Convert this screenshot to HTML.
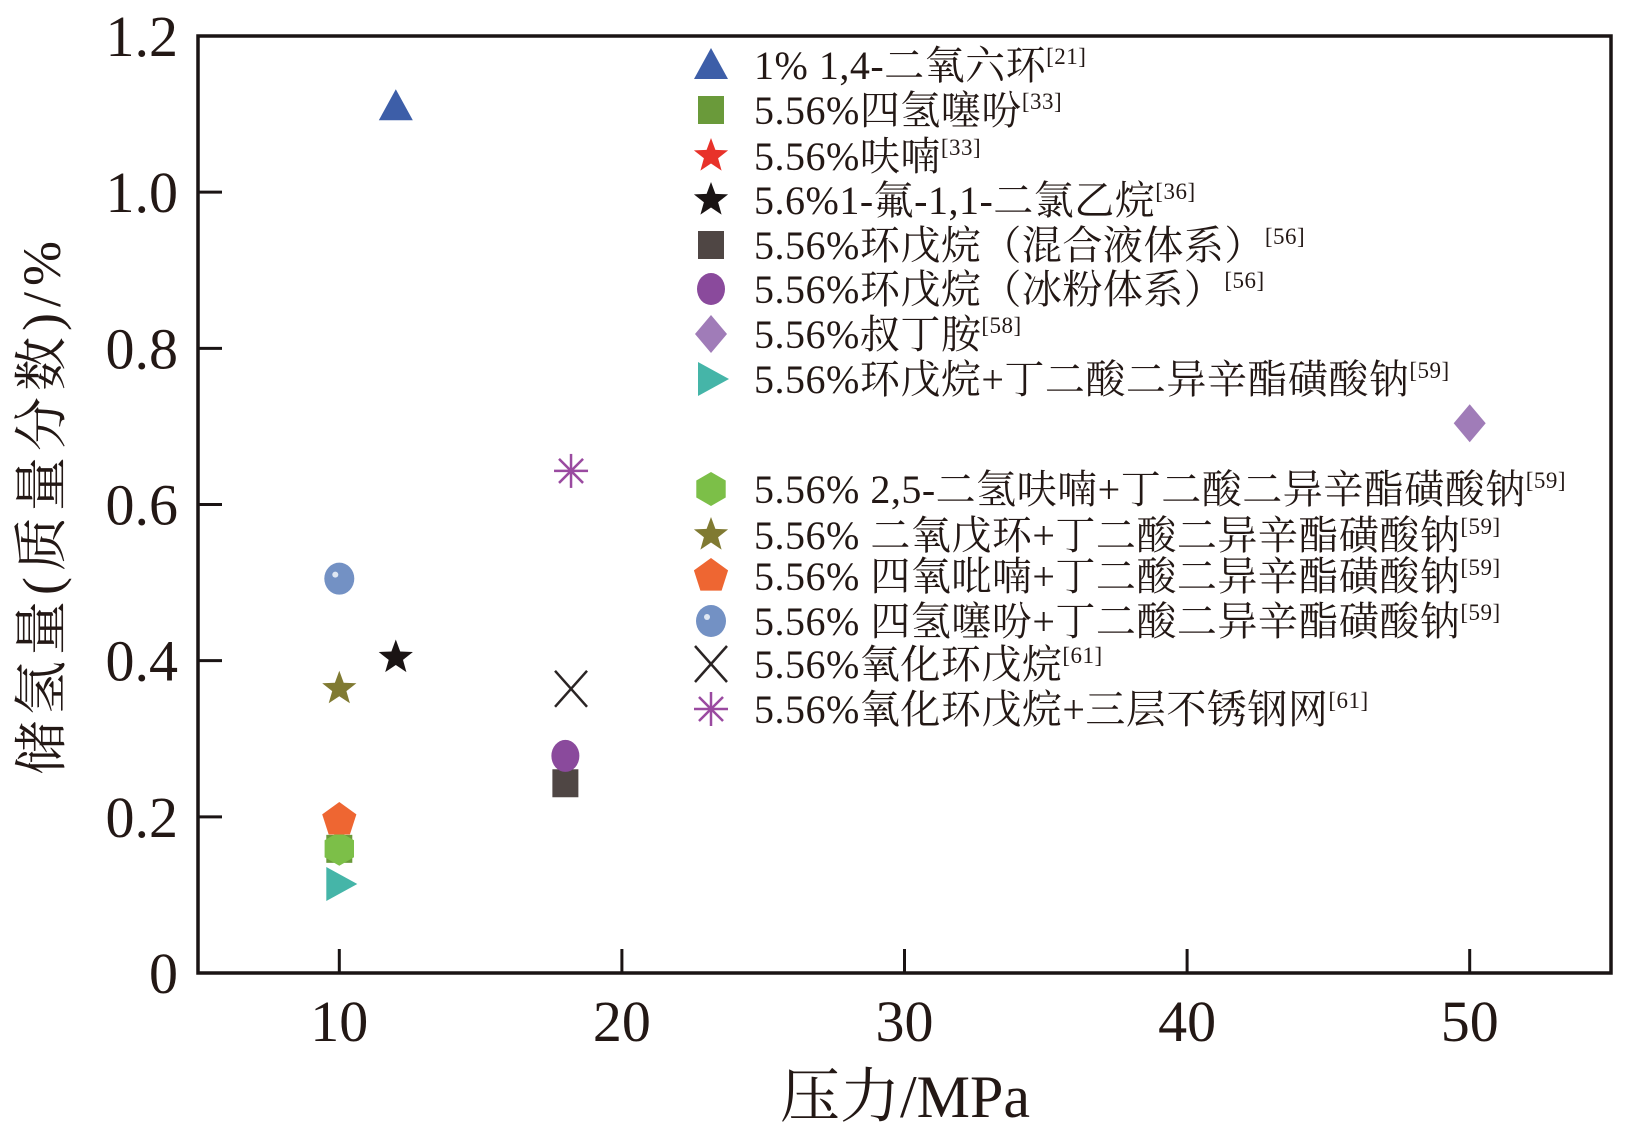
<!DOCTYPE html>
<html><head><meta charset="utf-8"><style>
html,body{margin:0;padding:0;background:#fff;width:1626px;height:1137px;overflow:hidden}
svg{display:block}
text{font-family:"Liberation Serif","Noto Serif CJK SC",serif;fill:#231815}
</style></head><body>
<svg id="chart" width="1626" height="1137" viewBox="0 0 1626 1137" xmlns="http://www.w3.org/2000/svg"></svg>
<script>
const xTicks = [10, 20, 30, 40, 50];
const yTicks = [0, 0.2, 0.4, 0.6, 0.8, 1.0, 1.2];
const yTickLabels = ["0", "0.2", "0.4", "0.6", "0.8", "1.0", "1.2"];
const seriesNames = ["1% 1,4-二氧六环", "5.56%四氢噻吩", "5.56%呋喃", "5.6%1-氟-1,1-二氯乙烷", "5.56%环戊烷（混合液体系）", "5.56%环戊烷（冰粉体系）", "5.56%叔丁胺", "5.56%环戊烷+丁二酸二异辛酯磺酸钠", "5.56% 2,5-二氢呋喃+丁二酸二异辛酯磺酸钠", "5.56% 二氧戊环+丁二酸二异辛酯磺酸钠", "5.56% 四氧吡喃+丁二酸二异辛酯磺酸钠", "5.56% 四氢噻吩+丁二酸二异辛酯磺酸钠", "5.56%氧化环戊烷", "5.56%氧化环戊烷+三层不锈钢网"];
const seriesRefs = ["[21]", "[33]", "[33]", "[36]", "[56]", "[56]", "[58]", "[59]", "[59]", "[59]", "[59]", "[59]", "[61]", "[61]"];
const seriesX = [12, 10, null, 12, 18, 18, 50, 10, 10, 10, 10, 10, 18.2, 18.2];
const seriesY = [1.11, 0.159, null, 0.404, 0.243, 0.278, 0.704, 0.114, 0.159, 0.364, 0.196, 0.505, 0.364, 0.643];
const shapes = ["tri", "square", "star", "star", "square", "circle", "diamond", "rtri", "hex", "star", "pent", "sphere", "x", "ast"];
const colors = ["#3d5ea8", "#6a9a3a", "#e8322a", "#1a1414", "#4f4644", "#8a4a9c", "#a07cb8", "#45b5a8", "#7cbf48", "#807a32", "#ee6632", "#7391c4", "#2a2424", "#9a4aa0"];

const L = 198, R = 1611, T = 36, B = 973;
const xMin = 5, xMax = 55, yMin = 0, yMax = 1.2;
const sx = v => L + (v - xMin) / (xMax - xMin) * (R - L);
const sy = v => B - (v - yMin) / (yMax - yMin) * (B - T);
const svg = document.getElementById('chart');
const NS = 'http://www.w3.org/2000/svg';
function mk(tag, attrs, parent) {
  const e = document.createElementNS(NS, tag);
  for (const k in attrs) e.setAttribute(k, attrs[k]);
  (parent || svg).appendChild(e);
  return e;
}
function starPts(cx, cy, r, ri) {
  let p = [];
  for (let i = 0; i < 10; i++) {
    const a = -Math.PI / 2 + i * Math.PI / 5, rr = i % 2 ? ri : r;
    p.push((cx + rr * Math.cos(a)).toFixed(1) + ',' + (cy + rr * Math.sin(a)).toFixed(1));
  }
  return p.join(' ');
}
function polyPts(cx, cy, r, n, off) {
  let p = [];
  for (let i = 0; i < n; i++) {
    const a = off + i * 2 * Math.PI / n;
    p.push((cx + r * Math.cos(a)).toFixed(1) + ',' + (cy + r * Math.sin(a)).toFixed(1));
  }
  return p.join(' ');
}
function marker(shape, cx, cy, c, g) {
  switch (shape) {
    case 'tri': return mk('polygon', {points: `${cx},${cy-17} ${cx+17},${cy+14} ${cx-17},${cy+14}`, fill: c}, g);
    case 'rtri': return mk('polygon', {points: `${cx-13},${cy-17} ${cx+18},${cy} ${cx-13},${cy+17}`, fill: c}, g);
    case 'square': return mk('rect', {x: cx-13, y: cy-14, width: 26, height: 28, fill: c}, g);
    case 'star': return mk('polygon', {points: starPts(cx, cy, 18, 7.5), fill: c}, g);
    case 'circle': return mk('ellipse', {cx: cx, cy: cy, rx: 14, ry: 16, fill: c}, g);
    case 'sphere': {
      const e = mk('ellipse', {cx: cx, cy: cy, rx: 15, ry: 16, fill: c}, g);
      mk('circle', {cx: cx-4, cy: cy-4, r: 3, fill: '#dfe7f3'}, g);
      return e;
    }
    case 'diamond': return mk('polygon', {points: `${cx},${cy-19} ${cx+16},${cy} ${cx},${cy+19} ${cx-16},${cy}`, fill: c}, g);
    case 'hex': return mk('polygon', {points: polyPts(cx, cy, 17, 6, -Math.PI/2), fill: c}, g);
    case 'pent': return mk('polygon', {points: polyPts(cx, cy, 18, 5, -Math.PI/2), fill: c}, g);
    case 'x': {
      mk('line', {x1: cx-16, y1: cy-18, x2: cx+16, y2: cy+18, stroke: c, 'stroke-width': 2.5}, g);
      return mk('line', {x1: cx+16, y1: cy-18, x2: cx-16, y2: cy+18, stroke: c, 'stroke-width': 2.5}, g);
    }
    case 'ast': {
      for (let i = 0; i < 4; i++) {
        const a = i * Math.PI / 4 + Math.PI / 2;
        mk('line', {x1: cx - 17*Math.cos(a), y1: cy - 17*Math.sin(a), x2: cx + 17*Math.cos(a), y2: cy + 17*Math.sin(a), stroke: c, 'stroke-width': 2.5}, g);
      }
      return null;
    }
  }
}

const frame = mk('rect', {x: L, y: T, width: R-L, height: B-T, fill: 'none', stroke: '#1a1414', 'stroke-width': 3.5});



xTicks.forEach(v => {
  const x = sx(v);
  const t = mk('line', {x1: x, y1: B, x2: x, y2: B-24, stroke: '#1a1414', 'stroke-width': 3});
  
  
  const l = mk('text', {x: x, y: B+68, 'font-size': 58, 'text-anchor': 'middle'});
  l.textContent = v;
  
  
});
yTicks.forEach((v, i) => {
  const y = sy(v);
  if (i > 0 && i < yTicks.length - 1) {
    const t = mk('line', {x1: L, y1: y, x2: L+24, y2: y, stroke: '#1a1414', 'stroke-width': 3});
    
    
  }
  const l = mk('text', {x: 178, y: y+20, 'font-size': 58, 'text-anchor': 'end'});
  l.textContent = yTickLabels[i];
  
  
});
const xt = mk('text', {x: 905, y: 1117, 'font-size': 60, 'text-anchor': 'middle'});
xt.textContent = '压力/MPa';


const yt = mk('text', {x: 0, y: 0, 'font-size': 54, 'letter-spacing': 6, 'text-anchor': 'middle', transform: 'translate(60,505) rotate(-90)'});
yt.textContent = '储氢量(质量分数)/%';



seriesNames.forEach((n, i) => {
  if (seriesX[i] === null) return;
  const g = mk('g', {});
  
  
  marker(shapes[i], sx(seriesX[i]), sy(seriesY[i]), colors[i], g);
});

const legendY = [65, 110, 156, 200, 245, 289, 334, 379, 489, 535, 576, 621, 664, 709];
seriesNames.forEach((n, i) => {
  const g = mk('g', {});
  
  
  marker(shapes[i], 711, legendY[i], colors[i], g);
  const t = mk('text', {x: 754, y: legendY[i] + 14, 'font-size': 40, 'letter-spacing': 0.5}, g);
  t.textContent = n;
  const s = mk('tspan', {'font-size': 23, dy: -15}, t);
  s.textContent = seriesRefs[i];
});
</script>
</body></html>
